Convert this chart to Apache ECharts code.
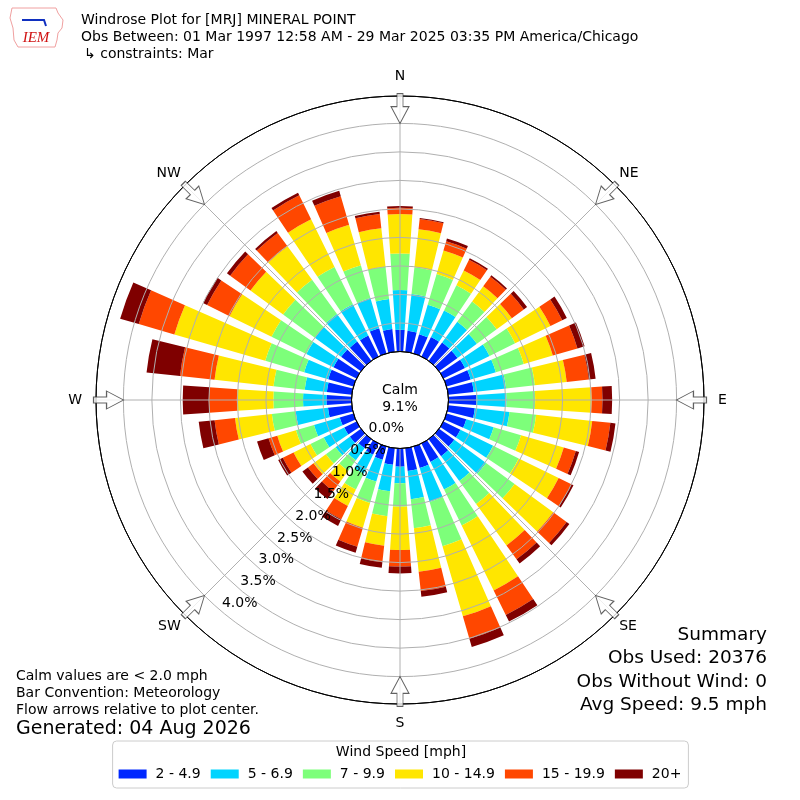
<!DOCTYPE html>
<html>
<head>
<meta charset="utf-8">
<script src="https://cdn.jsdelivr.net/npm/echarts@6/dist/echarts.min.js"></script>
<style>html,body{margin:0;padding:0;background:#fff}#c{width:800px;height:800px}</style>
</head>
<body>
<div id="c"></div>
<script>
// ---- data ----
const directions = [0,10,20,30,40,50,60,70,80,90,100,110,120,130,140,150,160,170,180,190,200,210,220,230,240,250,260,270,280,290,300,310,320,330,340,350];
const speedBins = ['2 - 4.9','5 - 6.9','7 - 9.9','10 - 14.9','15 - 19.9','20+'];
// percent of observations per direction, per speed bin
const s2to5   = [0.38,0.37,0.35,0.38,0.40,0.40,0.42,0.44,0.45,0.49,0.47,0.36,0.33,0.33,0.37,0.36,0.39,0.40,0.32,0.29,0.24,0.22,0.20,0.24,0.24,0.25,0.42,0.44,0.44,0.46,0.45,0.43,0.42,0.41,0.46,0.40];
const s5to7   = [0.70,0.65,0.54,0.52,0.45,0.42,0.48,0.46,0.57,0.53,0.61,0.50,0.64,0.69,0.54,0.54,0.62,0.50,0.29,0.47,0.40,0.37,0.26,0.31,0.40,0.47,0.57,0.41,0.39,0.44,0.53,0.57,0.60,0.61,0.55,0.53];
const s7to10  = [0.64,0.47,0.56,0.49,0.44,0.43,0.50,0.51,0.51,0.50,0.47,0.50,0.50,0.62,0.50,0.70,0.81,0.51,0.41,0.44,0.39,0.31,0.23,0.21,0.26,0.33,0.42,0.52,0.55,0.71,0.68,0.69,0.74,0.73,0.60,0.57];
const s10to15 = [0.69,0.67,0.43,0.29,0.33,0.33,0.69,0.53,0.56,0.99,0.99,0.78,0.78,0.84,0.90,1.27,1.28,0.77,0.76,0.52,0.45,0.32,0.23,0.27,0.33,0.34,0.65,0.64,1.04,1.66,0.82,0.71,0.73,0.93,0.74,0.68];
const s15to20 = [0.11,0.18,0.17,0.21,0.21,0.26,0.23,0.45,0.39,0.19,0.32,0.22,0.25,0.29,0.30,0.48,0.41,0.34,0.29,0.29,0.35,0.26,0.21,0.12,0.21,0.16,0.36,0.49,0.61,0.65,0.44,0.44,0.29,0.47,0.52,0.25];
const s20plus = [0.03,0.02,0.05,0.03,0.03,0.07,0.09,0.13,0.12,0.17,0.09,0.06,0.04,0.06,0.09,0.13,0.15,0.10,0.12,0.10,0.11,0.13,0.17,0.12,0.09,0.21,0.28,0.46,0.59,0.34,0.08,0.07,0.04,0.05,0.10,0.04];
const binValues = [s2to5, s5to7, s7to10, s10to15, s15to20, s20plus];
const binColors = ['#0028ff','#00d4ff','#7dff7a','#ffe600','#ff4700','#7f0000'];
const compassLabels = ['N','NE','E','SE','S','SW','W','NW'];
const compassAngles = [0,45,90,135,180,225,270,315];
const radialTicks = [0,0.5,1.0,1.5,2.0,2.5,3.0,3.5,4.0];
const calmPercent = '9.1%';
const titleLines = ['Windrose Plot for [MRJ] MINERAL POINT','Obs Between: 01 Mar 1997 12:58 AM - 29 Mar 2025 03:35 PM America/Chicago','\u21b3 constraints: Mar'];
const noteLines = ['Calm values are < 2.0 mph','Bar Convention: Meteorology','Flow arrows relative to plot center.'];
const generatedText = 'Generated: 04 Aug 2026';
const summaryLines = ['Summary','Obs Used: 20376','Obs Without Wind: 0','Avg Speed: 9.5 mph'];

// ---- chart ----
const FONT = '"DejaVu Sans", sans-serif';
const CX = 400, CY = 400, R0 = 48.5, R1 = 304;
const RMAX = 4.48;
const ARROW_R = 4.26;
const LABEL_ANGLE = 220;

function txt(x, y, text, size, align, extra) {
  return Object.assign({
    type: 'text', x: x, y: y, silent: true, z: 100,
    style: {
      text: text, fill: '#000',
      font: size + 'px ' + FONT, fontSize: size, fontFamily: FONT,
      textAlign: align, align: align,
      textVerticalAlign: 'middle', verticalAlign: 'middle'
    }
  }, extra || {});
}

const chart = echarts.init(document.getElementById('c'), null, {renderer: 'canvas'});

const barSeries = speedBins.map((name, i) => ({
  name: name, type: 'bar', coordinateSystem: 'polar', polarIndex: 1,
  stack: 'wind', data: binValues[i], barCategoryGap: '24%',
  itemStyle: {color: binColors[i]}, z: 2, silent: true
}));

const splitColors = ['#000000'].concat(radialTicks.slice(1).map(() => '#b0b0b0')).concat(['#000000']);

const graphics = [];
titleLines.forEach((t, i) => graphics.push(txt(i === 2 ? 84 : 81, [20, 37, 54][i], t, 14, 'left')));
noteLines.forEach((t, i) => graphics.push(txt(16, [676, 693, 710][i], t, 14, 'left')));
graphics.push(txt(16, 729, generatedText, 19, 'left'));
summaryLines.forEach((t, i) => graphics.push(txt(767, [635, 658, 682, 705][i], t, 18.5, 'right')));
graphics.push(txt(CX, 390, 'Calm', 14, 'center'));
graphics.push(txt(CX, 407, calmPercent, 14, 'center'));
graphics.push(txt(401, 752, 'Wind Speed [mph]', 14, 'center'));
// IEM logo (simplified)
graphics.push({
  type: 'polyline', silent: true, z: 90,
  shape: {points: [[12,8],[56,8],[58,13],[63,20],[62,28],[58,33],[57,40],[55,47],[18,47],[14,40],[13,28],[10,18],[12,8]]},
  style: {stroke: '#f0a0a0', fill: '#fff', lineWidth: 1}
});
graphics.push({
  type: 'polyline', silent: true, z: 91,
  shape: {points: [[22,20],[44,20],[46,26]]},
  style: {stroke: '#1030c0', lineWidth: 2, fill: null}
});
graphics.push(txt(36, 38, 'IEM', 15, 'center', {style: {text: 'IEM', fill: '#d01010', font: 'italic 15px "Liberation Serif", serif', textAlign: 'center', align: 'center', textVerticalAlign: 'middle', verticalAlign: 'middle'}}));

const option = {
  animation: false,
  backgroundColor: '#ffffff',
  polar: [
    {center: [CX, CY], radius: [R0, R1]},
    {center: [CX, CY], radius: [R0, R1]}
  ],
  angleAxis: [
    {
      polarIndex: 0, type: 'value', min: 0, max: 360, interval: 45,
      startAngle: 90, clockwise: true, z: 5,
      axisLine: {show: true, lineStyle: {color: '#000', width: 1}},
      axisTick: {show: false},
      axisLabel: {
        show: true, margin: 6, fontSize: 14, fontFamily: FONT, color: '#000',
        formatter: v => {
          if (v >= 360) return '';
          const i = Math.round(v / 45);
          const key = ['n', 'd', 'e', 'd', 's', 'd', 'w', 'd'][i];
          return '{' + key + '|' + compassLabels[i] + '}';
        },
        rich: {
          n: {fontSize: 14, fontFamily: FONT, color: '#000', padding: [0, 0, 7, 0]},
          e: {fontSize: 14, fontFamily: FONT, color: '#000', padding: [0, 0, 0, 8]},
          s: {fontSize: 14, fontFamily: FONT, color: '#000', padding: [6, 0, 0, 0]},
          w: {fontSize: 14, fontFamily: FONT, color: '#000', padding: [0, 8, 0, 0]},
          d: {fontSize: 14, fontFamily: FONT, color: '#000'}
        }
      },
      splitLine: {show: true, lineStyle: {color: '#b0b0b0', width: 1}}
    },
    {
      polarIndex: 1, type: 'category', data: directions,
      startAngle: 95, clockwise: true,
      axisLine: {show: false}, axisTick: {show: false}, axisLabel: {show: false},
      splitLine: {show: false}
    }
  ],
  radiusAxis: [
    {
      polarIndex: 0, type: 'value', min: 0, max: RMAX, interval: 0.5, z: 5,
      axisLine: {show: false}, axisTick: {show: false}, axisLabel: {show: false},
      splitLine: {show: true, lineStyle: {color: splitColors, width: 1}}
    },
    {
      polarIndex: 1, type: 'value', min: 0, max: RMAX,
      axisLine: {show: false}, axisTick: {show: false}, axisLabel: {show: false},
      splitLine: {show: false}
    }
  ],
  legend: {
    show: true, data: speedBins, left: 'center', top: 741,
    orient: 'horizontal', icon: 'rect', itemWidth: 28, itemHeight: 9, itemGap: 10,
    padding: [26, 7, 7, 6], borderColor: '#cccccc', borderWidth: 1, borderRadius: 4,
    backgroundColor: '#fff', selectedMode: false,
    textStyle: {fontSize: 14, fontFamily: FONT, color: '#000', padding: [0, 0, 0, 4]}
  },
  graphic: {elements: graphics},
  series: barSeries.concat([
    {
      type: 'scatter', coordinateSystem: 'polar', polarIndex: 0,
      data: compassAngles.map(a => ({value: [ARROW_R, a], symbolRotate: -a})),
      symbol: 'path://M-3,-15L3,-15L3,-2L9,-2L0,15L-9,-2L-3,-2Z',
      symbolSize: [18, 30],
      itemStyle: {color: '#ffffff', borderColor: '#3a3a3a', borderWidth: 1},
      z: 12, silent: true
    }
  ])
};
chart.setOption(option);

// radial tick labels: positions come from the polar coordinate system
radialTicks.forEach(v => {
  const p = chart.convertToPixel({polarIndex: 0}, [v, LABEL_ANGLE]);
  if (p) graphics.push(txt(p[0] + 17.5, p[1] - 8.5, v.toFixed(1) + '%', 14, 'center', {z: 120}));
});
chart.setOption({graphic: {elements: graphics}});
</script>
</body>
</html>
